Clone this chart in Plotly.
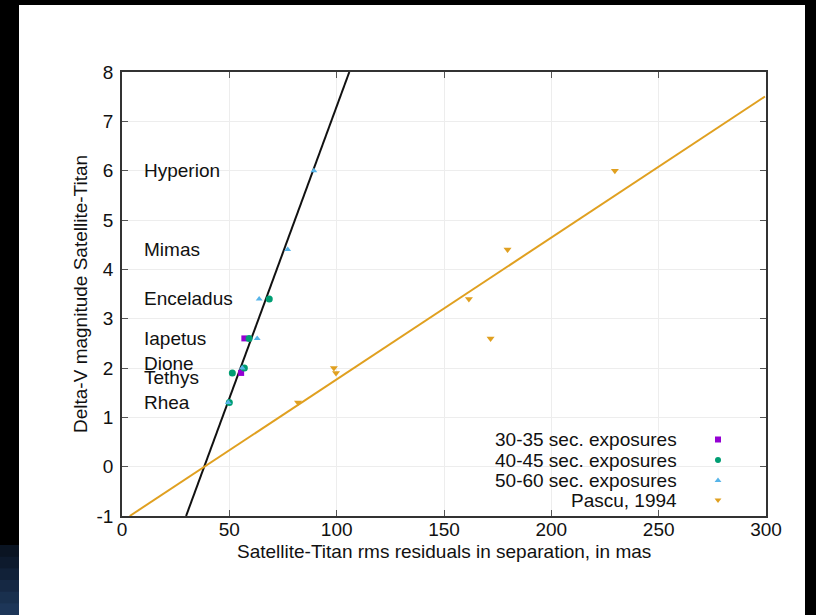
import numpy as np
import plotly.graph_objects as go

# ---------------- data ----------------
s30_x = [57.0, 55.5]
s30_y = [2.6, 1.9]
s40_x = [68.6, 59.2, 57.0, 51.4, 50.0]
s40_y = [3.4, 2.6, 2.0, 1.9, 1.3]
s50_x = [89.4, 77.2, 63.9, 63.0, 56.0, 49.5]
s50_y = [6.0, 4.4, 3.4, 2.6, 2.0, 1.3]
pascu_x = [82.0, 98.7, 99.7, 161.6, 171.7, 179.6, 229.6]
pascu_y = [1.3, 2.0, 1.9, 3.4, 2.6, 4.4, 6.0]

# fit lines: x0 = x at y=0, scale = mas per magnitude
fit_new = {"x0": 38.3, "scale": 8.45}
fit_pascu = {"x0": 38.4, "scale": 34.8}

sat_names = ["Hyperion", "Mimas", "Enceladus", "Iapetus", "Dione", "Tethys", "Rhea"]
sat_label_y = [6.0, 4.4, 3.4, 2.6, 2.1, 1.8, 1.3]

legend_names = ["30-35 sec. exposures", "40-45 sec. exposures",
                "50-60 sec. exposures", "Pascu, 1994"]

x_ticks = [0, 50, 100, 150, 200, 250, 300]
y_ticks = [-1, 0, 1, 2, 3, 4, 5, 6, 7, 8]

# ---------------- styling ----------------
PURPLE = "#9400d3"
GREEN = "#009e73"
BLUE = "#56b4e9"
ORANGE = "#e0a020"
FONT = "Liberation Sans, Arial, sans-serif"
FS = 19

W, H = 816, 615
L, R, T, B = 122, 50, 72, 99
PW, PH = W - L - R, H - T - B


def fx(px):
    return (px - L) / PW


def fy(py):
    return (H - B - py) / PH


fig = go.Figure()

XR = [0, 300]
YR = [-1, 8]


def fit_line(p):
    ys = np.linspace(YR[0], YR[1], 400)
    xs = p["x0"] + p["scale"] * ys
    m = (xs >= XR[0]) & (xs <= XR[1])
    return xs[m], ys[m]


bx, by = fit_line(fit_new)
fig.add_trace(go.Scatter(x=bx, y=by, mode="lines",
                         line=dict(color="#111111", width=2), showlegend=False))
ox, oy = fit_line(fit_pascu)
fig.add_trace(go.Scatter(x=ox, y=oy, mode="lines",
                         line=dict(color=ORANGE, width=2), showlegend=False))

series = [
    (s30_x, s30_y, "square", PURPLE, 6),
    (s40_x, s40_y, "circle", GREEN, 7),
    (s50_x, s50_y, "triangle-up", BLUE, 6),
    (pascu_x, pascu_y, "triangle-down", ORANGE, 7),
]
for (xs, ys, sym, col, sz), name in zip(series, legend_names):
    fig.add_trace(go.Scatter(x=xs, y=ys, mode="markers", name=name,
                             marker=dict(symbol=sym, color=col, size=sz, line=dict(width=0)),
                             showlegend=False))

# manual legend (text right aligned, marker on the right) on overlay axes in [0,1]
leg_rows_py = [439.5, 460, 480.5, 500]
for (xs, ys, sym, col, sz), name, py in zip(series, legend_names, leg_rows_py):
    fig.add_trace(go.Scatter(x=[fx(718)], y=[fy(py)], mode="markers",
                             xaxis="x2", yaxis="y2",
                             marker=dict(symbol=sym, color=col, size=6, line=dict(width=0)),
                             showlegend=False, hoverinfo="skip"))
    fig.add_annotation(text=name, xref="paper", yref="paper", x=fx(679), y=fy(py),
                       xanchor="right", yanchor="middle", showarrow=False,
                       font=dict(family=FONT, size=FS, color="#111111"))

# satellite labels
for name, y in zip(sat_names, sat_label_y):
    fig.add_annotation(text=name, x=9.5, y=y, xref="x", yref="y",
                       xanchor="left", yanchor="middle", showarrow=False,
                       font=dict(family=FONT, size=FS, color="#111111"))

# axis titles
fig.add_annotation(text="Satellite-Titan rms residuals in separation, in mas",
                   xref="paper", yref="paper", x=0.5, y=fy(551),
                   xanchor="center", yanchor="middle", showarrow=False,
                   font=dict(family=FONT, size=FS, color="#111111"))
fig.add_annotation(text="Delta-V magnitude Satellite-Titan",
                   xref="paper", yref="paper", x=fx(80), y=0.5, textangle=-90,
                   xanchor="center", yanchor="middle", showarrow=False,
                   font=dict(family=FONT, size=FS, color="#111111"))

# page frame: black background, white sheet, navy strip bottom-left
fig.add_shape(type="rect", xref="paper", yref="paper",
              x0=fx(19), x1=fx(805), y0=fy(616), y1=fy(5),
              fillcolor="white", line=dict(width=0), layer="below")
navy = ["#0a1422", "#0d1a2d", "#112138", "#152843", "#19304e", "#1d3658"]
n = len(navy)
for i, c in enumerate(navy):
    fig.add_shape(type="rect", xref="paper", yref="paper",
                  x0=fx(0), x1=fx(19),
                  y0=fy(545 + 70 * (i + 1) / n + 1), y1=fy(545 + 70 * i / n),
                  fillcolor=c, line=dict(width=0), layer="below")

axis_common = dict(
    showline=True, mirror="ticks", linecolor="#333333", linewidth=1.5,
    ticks="inside", ticklen=6, tickcolor="#555555", tickwidth=1,
    showgrid=True, gridcolor="#ededed", gridwidth=1, zeroline=False,
    tickfont=dict(family=FONT, size=FS, color="#111111"),
)

fig.update_layout(
    width=W, height=H,
    margin=dict(l=L, r=R, t=T, b=B, pad=0),
    paper_bgcolor="black", plot_bgcolor="white",
    showlegend=False,
    xaxis=dict(range=XR, tickvals=x_ticks, ticktext=[str(v) for v in x_ticks],
               ticklabelstandoff=-5, **axis_common),
    yaxis=dict(range=YR, tickvals=y_ticks, ticktext=[str(v) for v in y_ticks],
               ticklabelstandoff=3, **axis_common),
    xaxis2=dict(overlaying="x", range=[0, 1], visible=False, fixedrange=True),
    yaxis2=dict(overlaying="y", range=[0, 1], visible=False, fixedrange=True),
)

fig.write_html("out.html")
